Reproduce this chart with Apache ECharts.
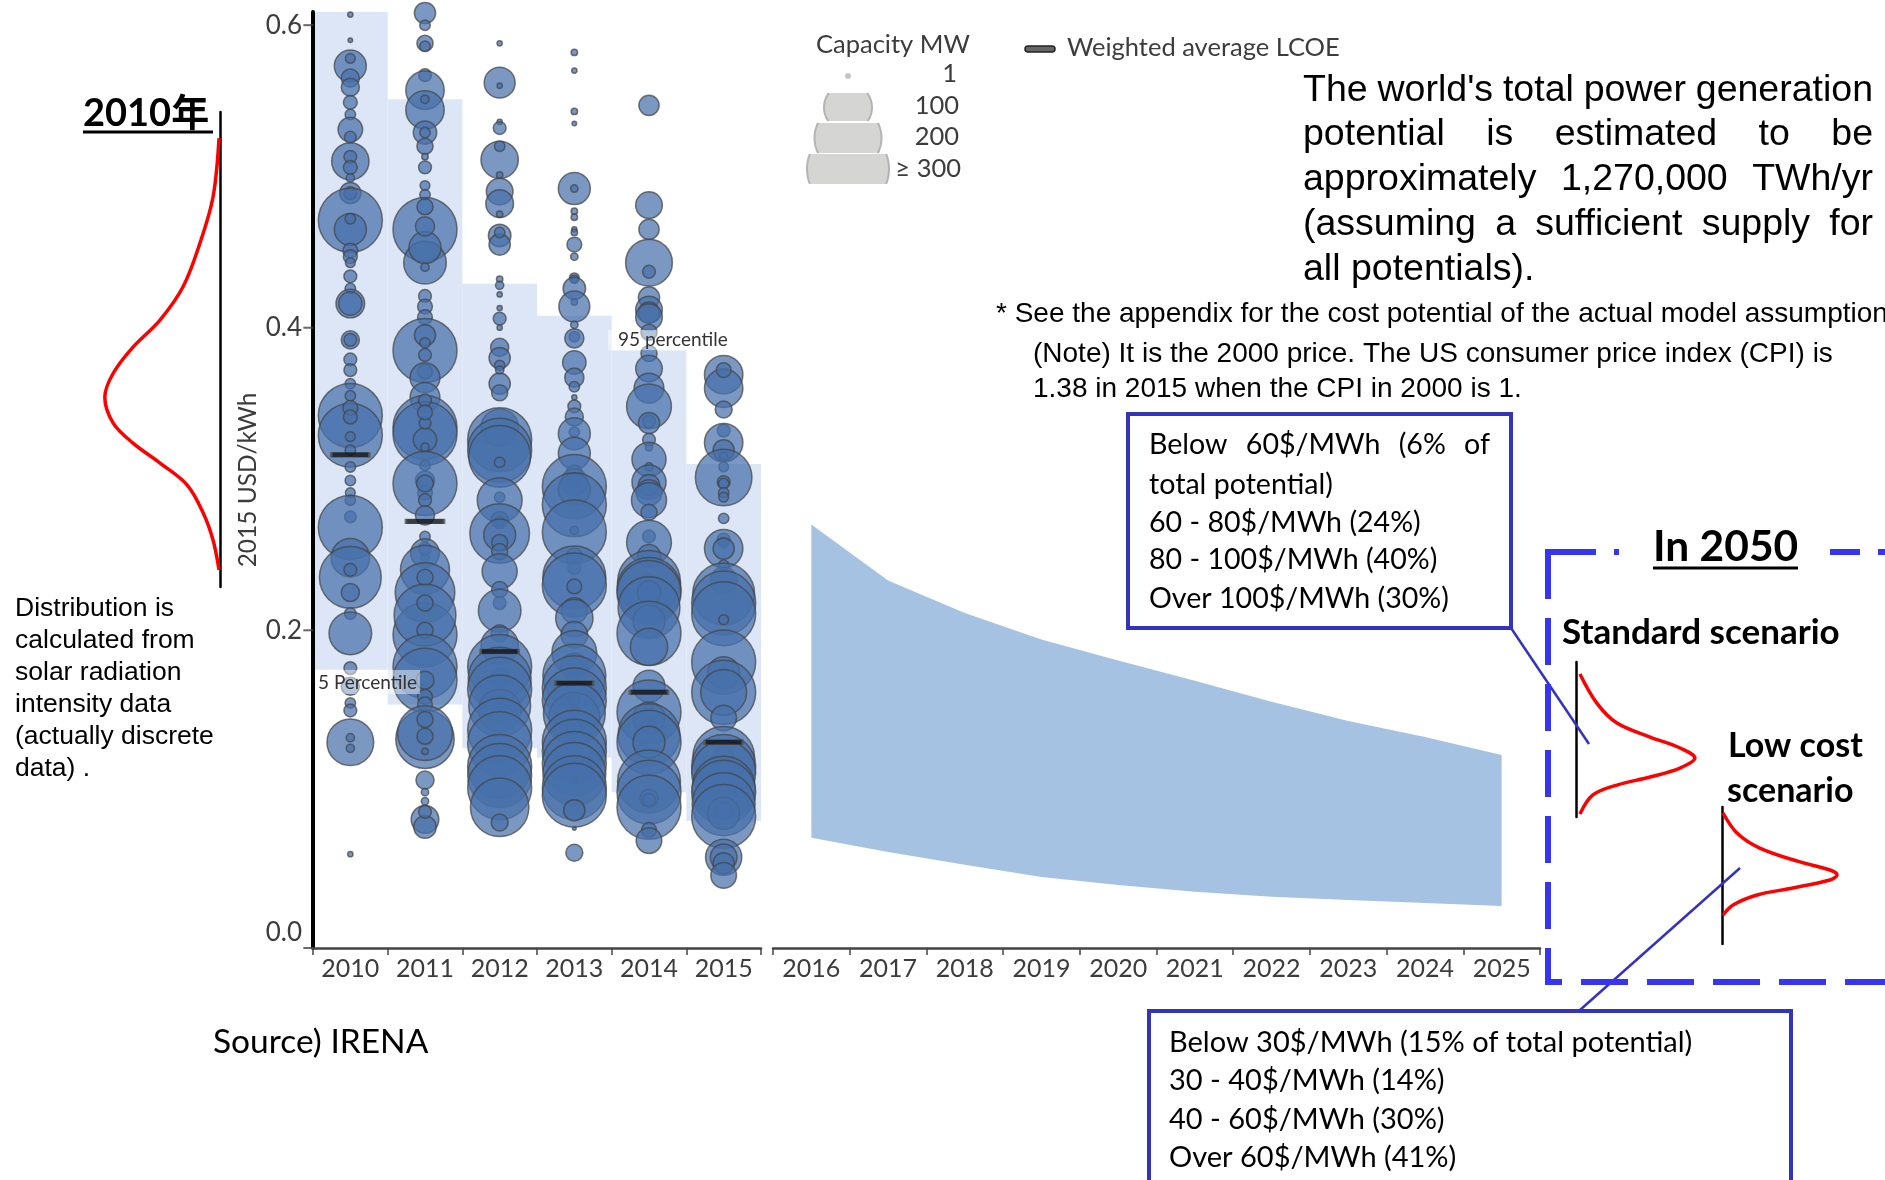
<!DOCTYPE html>
<html>
<head>
    <meta charset="utf-8">
    <title>Solar LCOE</title>
    <script src="https://cdn.jsdelivr.net/npm/echarts@6/dist/echarts.min.js"></script>
    <style type="text/css">
        html, body { height: 100%; margin: 0; padding: 0; background: #fff; overflow: hidden; }
        #main { width: 1885px; height: 1180px; }
    </style>
</head>
<body>
<div id="main"></div>
<script type="text/javascript">
    var pastYears = ['2010', '2011', '2012', '2013', '2014', '2015'];
    var futureYears = ['2016', '2017', '2018', '2019', '2020', '2021', '2022', '2023', '2024', '2025'];

    // 2015 USD/kWh, per year
    var p5 = [0.174, 0.151, 0.122, 0.116, 0.093, 0.074];
    var p95 = [0.6087, 0.551, 0.429, 0.408, 0.385, 0.310];
    var weightedAvg = [0.316, 0.272, 0.186, 0.165, 0.159, 0.126];
    var bandUpper = [0.270, 0.233, 0.2115, 0.194, 0.180, 0.1666, 0.1527, 0.140, 0.1295, 0.1176];
    var bandLower = [0.0628, 0.0535, 0.045, 0.037, 0.0317, 0.0271, 0.0238, 0.0218, 0.0198, 0.0178];
    var yTicks = [-0.01, 0.2, 0.4, 0.6];
    var yLabels = [0, 0.2, 0.4, 0.6];

    // [LCOE, capacity MW]
    var projects2010 = [[.607,2],[.590,1.5],[.573,75],[.578,7],[.565,24],[.559,24],[.549,14],[.541,8],[.531,44],[.526,10],
        [.510,102],[.513,12],[.506,14],[.499,5],[.489,33],[.489,12],[.471,300],[.465,75],[.472,8],[.451,16],[.447,14],[.443,7],
        [.434,12],[.426,8],[.416,60],[.416,40],[.392,24],[.392,12],[.379,12],[.372,12],[.363,8],[.342,300],[.329,300],[.355,8],
        [.347,16],[.341,14],[.328,7],[.319,8],[.308,8],[.299,8],[.291,7],[.286,8],[.275,10],[.268,300],[.248,108],[.235,280],
        [.240,12],[.225,24],[.211,10],[.198,133],[.175,12],[.163,24],[.152,8],[.147,12],[.126,160],[.129,5],[.122,5],[.052,2]];
    var projects2011 = [[.608,33],[.600,8],[.588,19],[.586,8],[.567,12],[.557,108],[.544,108],[.551,5],[.529,40],[.529,8],
        [.520,19],[.506,12],[.513,3],[.494,7],[.488,8],[.465,300],[.443,133],[.453,75],[.480,19],[.467,27],[.440,5],[.421,12],
        [.414,16],[.407,16],[.385,300],[.395,33],[.390,8],[.382,12],[.371,16],[.367,65],[.354,65],[.334,300],[.330,300],[.326,40],
        [.337,10],[.352,12],[.344,16],[.321,5],[.309,8],[.299,27],[.291,16],[.297,300],[.297,21],[.286,12],[.276,27],[.262,8],
        [.254,12],[.248,5],[.251,60],[.240,176],[.225,260],[.235,19],[.197,300],[.210,280],[.200,19],[.218,19],[.176,300],[.167,300],
        [.167,24],[.156,16],[.151,16],[.128,250],[.132,220],[.130,19],[.141,19],[.120,3],[.101,24],[.093,4],[.087,4],[.075,56],[.070,37],[.080,12]];
    var projects2012 = [[.588,2],[.562,70],[.560,2],[.536,2],[.532,12],[.511,102],[.520,8],[.501,3],[.490,52],[.482,56],[.475,3],
        [.461,37],[.455,33],[.463,8],[.432,3],[.428,5],[.422,2],[.413,2],[.406,12],[.400,2],[.387,24],[.380,33],[.375,8],[.372,5],
        [.363,33],[.357,19],[.334,102],[.326,300],[.319,300],[.315,280],[.311,8],[.288,8],[.286,147],[.273,21],[.272,8],[.264,260],
        [.263,75],[.258,19],[.252,19],[.239,90],[.227,19],[.218,12],[.213,133],[.198,21],[.190,102],[.176,300],[.169,24],[.168,290],
        [.161,300],[.147,133],[.150,280],[.134,300],[.125,300],[.110,300],[.104,300],[.096,300],[.083,250],[.073,21]];
    var projects2013 = [[.582,3],[.570,2],[.543,3],[.535,1.5],[.492,75],[.492,4],[.477,3],[.473,3],[.465,2],[.463,3],[.455,16],
        [.447,4],[.433,7],[.432,5],[.426,37],[.417,3],[.414,70],[.402,4],[.394,8],[.393,27],[.377,40],[.367,27],[.361,8],[.354,2],
        [.348,12],[.341,24],[.331,8],[.330,75],[.317,75],[.304,19],[.299,16],[.298,52],[.295,300],[.293,75],[.283,300],[.266,5],
        [.265,300],[.249,19],[.241,12],[.235,290],[.230,300],[.229,16],[.213,48],[.208,102],[.197,52],[.185,147],[.176,52],[.170,290],
        [.162,300],[.154,300],[.154,8],[.147,5],[.142,192],[.145,280],[.136,16],[.126,300],[.120,300],[.112,300],[.105,290],[.102,2],
        [.096,300],[.091,300],[.081,33],[.069,1],[.053,21]];
    var projects2014 = [[.547,30],[.481,52],[.465,30],[.443,160],[.437,12],[.420,33],[.412,52],[.410,33],[.407,52],[.397,19],[.383,19],
        [.373,52],[.360,65],[.348,147],[.338,12],[.337,33],[.326,12],[.321,4],[.313,85],[.308,5],[.298,85],[.296,33],[.291,48],[.286,90],
        [.278,19],[.262,12],[.258,147],[.249,40],[.235,5],[.232,290],[.227,300],[.225,300],[.225,40],[.215,280],[.206,75],[.198,300],
        [.189,102],[.163,75],[.149,5],[.146,300],[.142,75],[.136,16],[.131,280],[.126,300],[.126,75],[.100,290],[.093,300],[.089,24],
        [.088,12],[.083,300],[.068,16],[.061,48]];
    var projects2015 = [[.369,108],[.360,108],[.372,16],[.346,21],[.332,12],[.324,108],[.319,33],[.315,5],[.308,7],[.301,234],[.298,12],
        [.297,8],[.291,8],[.288,7],[.274,8],[.260,12],[.258,8],[.254,108],[.254,33],[.243,8],[.233,52],[.224,280],[.218,300],[.211,300],
        [.207,7],[.179,300],[.172,75],[.159,300],[.159,154],[.142,48],[.116,33],[.116,280],[.110,300],[.106,300],[.103,75],[.096,290],
        [.093,300],[.085,290],[.081,19],[.079,75],[.077,300],[.050,96],[.050,52],[.046,33],[.038,48]];
    var allProjects = [projects2010, projects2011, projects2012, projects2013, projects2014, projects2015];

    // [density, position along the cost axis], both 0-100, schematic
    var dist2010 = [[.8,94.5],[5.8,82.1],[16.7,72.4],[30.8,63.2],[50,56.2],[72.5,50.5],[89,45],[96,40],[89,34.5],[72.5,30.3],[50,26.1],[27.5,21.5],[14,15.6],[5.8,9.9],[.8,3.6]];
    var distStandard = [[3,92.3],[16,73.5],[31.5,60.6],[57,51.6],[80,44.5],[91.5,38],[80,31.6],[57,25.8],[31.5,20.6],[13,14.2],[3,1.9]];
    var distLowCost = [[.8,95.6],[11.5,81],[29,70],[60,59.9],[83,54],[88.5,50.4],[83,46.7],[54.6,40.9],[27,35.8],[8.5,28.5],[.8,21.2]];

    var mainText = ["The world's total power generation", 'potential is estimated to be', 'approximately 1,270,000 TWh/yr', '(assuming a sufficient supply for', 'all potentials).'];
    var leftNote = ['Distribution is', 'calculated from', 'solar radiation', 'intensity data', '(actually discrete', 'data) .'];
    var box2050Standard = ['Below 60$/MWh (6% of', 'total potential)', '60 - 80$/MWh (24%)', '80 - 100$/MWh (40%)', 'Over 100$/MWh (30%)'];
    var box2050Low = ['Below 30$/MWh (15% of total potential)', '30 - 40$/MWh (14%)', '40 - 60$/MWh (30%)', 'Over 60$/MWh (41%)'];

    var yMin = -0.01, yMax = 0.6087;
    var axisText = '#3c3c3c';
    var axisFont = 'Lato';
    var boxBlue = '#3333bb';
    var dashBlue = '#3636f2';

    var myChart = echarts.init(document.getElementById('main'), null, {renderer: 'canvas'});

    // ---- graphic helpers ----
    var measure = document.createElement('canvas').getContext('2d');
    function txt(str, x, base, font, fill, size) {
        return {type: 'text', z: 100, style: {text: str, x: x, y: base - size * 0.35, fill: fill || '#000',
            font: font, verticalAlign: 'middle', align: 'left'}};
    }
    function txtR(str, x, base, font, fill, size) {
        var t = txt(str, x, base, font, fill, size);
        t.style.align = 'right';
        return t;
    }
    // one line stretched to the column width, word by word
    function justified(str, x0, x1, base, font, size) {
        measure.font = font;
        var words = str.split(' ');
        var total = 0;
        words.forEach(function (w) { total += measure.measureText(w).width; });
        var gap = (x1 - x0 - total) / (words.length - 1);
        var x = x0, out = [];
        words.forEach(function (w) {
            out.push(txt(w, x, base, font, '#000', size));
            x += measure.measureText(w).width + gap;
        });
        return out;
    }
    function seg(x1, y1, x2, y2, color, w, dash) {
        return {type: 'line', z: 99, shape: {x1: x1, y1: y1, x2: x2, y2: y2},
            style: {stroke: color, lineWidth: w, lineDash: dash || null}};
    }
    function rect(x, y, w, h, fill, stroke, lw) {
        return {type: 'rect', z: 98, shape: {x: x, y: y, width: w, height: h},
            style: {fill: fill, stroke: stroke, lineWidth: lw || 0}};
    }
    // legend key: a circle cut flat at the top and bottom
    function legendKey(cx, top, bottom, half) {
        var cy = (top + bottom) / 2, l = [], r = [];
        for (var y = top; y <= bottom; y += 2) {
            var dx = Math.sqrt(half * half - (y - cy) * (y - cy));
            l.push([cx - dx, y]);
            r.unshift([cx + dx, y]);
        }
        var sideStyle = {stroke: '#b4b4b2', lineWidth: 2, fill: null};
        return [
            {type: 'polygon', z: 98, shape: {points: l.concat(r)}, style: {fill: '#d5d5d3'}},
            {type: 'polyline', z: 98, shape: {points: l}, style: sideStyle},
            {type: 'polyline', z: 98, shape: {points: r}, style: sideStyle}
        ];
    }

    var graphics = [];
    var arialMain = '37.5px "Liberation Sans"';
    [103.5, 148, 193, 238].forEach(function (base, i) {
        graphics = graphics.concat(justified(mainText[i], 1303, 1873, base, arialMain, 37.5));
    });
    graphics.push(txt(mainText[4], 1303, 282.5, arialMain, '#000', 37.5));

    var arial28 = '28px "Liberation Sans"';
    graphics.push(txt('* See the appendix for the cost potential of the actual model assumption', 996, 324, arial28, '#000', 28));
    graphics.push(txt('(Note) It is the 2000 price. The US consumer price index (CPI) is', 1033, 364.5, arial28, '#000', 28));
    graphics.push(txt('1.38 in 2015 when the CPI in 2000 is 1.', 1033, 399, arial28, '#000', 28));

    var arial26 = '26.5px "Liberation Sans"';
    leftNote.forEach(function (line, i) {
        graphics.push(txt(line, 15, 618 + i * 32, arial26, '#000', 26.5));
    });

    // year headings
    graphics.push(txt('2010年', 83, 127, 'bold 38px Lato, "Noto Sans CJK JP"', '#000', 38));
    graphics.push(seg(83, 132, 213, 132, '#000', 3));
    graphics.push(txt('In 2050', 1653, 562, 'bold 42.5px Lato', '#000', 42.5));
    graphics.push(seg(1653, 568, 1798, 568, '#000', 3));
    graphics.push(txt('Standard scenario', 1562, 645, 'bold 35px Lato', '#000', 35));
    graphics.push(txt('Low cost', 1728, 758, 'bold 34px Lato', '#000', 34));
    graphics.push(txt('scenario', 1727, 803, 'bold 34px Lato', '#000', 34));
    graphics.push(txt('Source) IRENA', 213, 1054, '33.5px Lato', '#000', 33.5));

    // capacity legend
    var legendFont = '25.5px Lato';
    graphics.push(txt('Capacity MW', 816, 54, legendFont, axisText, 25.5));
    graphics.push(txt('Weighted average LCOE', 1067, 57, legendFont, axisText, 25.5));
    graphics.push({type: 'rect', z: 98, shape: {x: 1025, y: 46, width: 30, height: 6, r: 3}, style: {fill: '#666', stroke: '#222', lineWidth: 1.5}});
    graphics.push({type: 'circle', z: 98, shape: {cx: 848, cy: 76, r: 3}, style: {fill: '#c4c4c4'}});
    graphics = graphics.concat(legendKey(848, 93, 122, 24), legendKey(848, 123, 153, 33.5), legendKey(848, 154, 184, 41));
    graphics.push(txtR('1', 957, 83, legendFont, axisText, 25.5));
    graphics.push(txtR('100', 959, 115, legendFont, axisText, 25.5));
    graphics.push(txtR('200', 959, 146, legendFont, axisText, 25.5));
    graphics.push(txtR('≥ 300', 961, 178, legendFont, axisText, 25.5));

    // percentile tags sit over the bubbles, with a thin white plate
    graphics.push(rect(315, 670, 105, 24, 'rgba(255,255,255,0.45)'));
    graphics.push(txt('5 Percentile', 318, 690, '19px Lato', '#333', 19));
    graphics.push(rect(608, 330, 122, 20, 'rgba(255,255,255,0.45)'));
    graphics.push(txt('95 percentile', 618, 347, '19px Lato', '#333', 19));

    // 2050 boxes
    var boxFont = '28.6px Lato';
    graphics.push(rect(1128, 414, 383, 214, '#fff', boxBlue, 4));
    graphics = graphics.concat(justified(box2050Standard[0], 1149, 1490, 455, boxFont, 28.6));
    [495, 533, 570, 609].forEach(function (base, i) {
        graphics.push(txt(box2050Standard[i + 1], 1149, base, boxFont, '#000', 28.6));
    });
    graphics.push(rect(1149, 1011, 642, 300, '#fff', boxBlue, 4));
    [1053, 1091, 1130, 1168].forEach(function (base, i) {
        graphics.push(txt(box2050Low[i], 1169, base, '29px Lato', '#000', 29));
    });
    graphics.push(seg(1511, 628, 1589, 744, boxBlue, 2.5));
    graphics.push(seg(1580, 1010, 1740, 868, boxBlue, 2.5));

    // dashed frame, open on the right edge of the page
    graphics.push(seg(1548, 552, 1548, 982, dashBlue, 6, [47, 19]));
    graphics.push(seg(1545, 552, 1596, 552, dashBlue, 6));
    graphics.push(seg(1614, 552, 1619, 552, dashBlue, 6));
    graphics.push(seg(1830, 552, 1860, 552, dashBlue, 6));
    graphics.push(seg(1878, 552, 1885, 552, dashBlue, 6));
    graphics.push(seg(1581, 982, 1885, 982, dashBlue, 6, [47, 19]));
    graphics.push(seg(1545, 982, 1562, 982, dashBlue, 6));

    // ---- axes ----
    function yearAxis(grid, years) {
        return {
            type: 'category', gridIndex: grid, data: years, boundaryGap: true, z: 6,
            axisLine: {onZero: false, lineStyle: {color: '#444', width: 2.5}},
            axisTick: {show: true, length: 7, alignWithLabel: false, lineStyle: {color: '#444', width: 1.5}},
            axisLabel: {color: axisText, fontFamily: axisFont, fontSize: 25, margin: 8, interval: 0},
            splitLine: {show: false}
        };
    }
    function distGrid(left, top, width, height) {
        return {left: left, top: top, width: width, height: height};
    }
    function distX(grid, inverse) {
        return {type: 'value', gridIndex: grid, min: 0, max: 100, inverse: inverse, show: false};
    }
    function distY(grid, pos) {
        return {type: 'value', gridIndex: grid, min: 0, max: 100, position: pos, name: '',
            axisLine: {show: true, onZero: false, lineStyle: {color: '#000', width: 2.5}},
            axisTick: {show: false}, axisLabel: {show: false}, splitLine: {show: false}};
    }
    function distSeries(grid, data) {
        return {type: 'line', xAxisIndex: grid, yAxisIndex: grid, data: data, smooth: 0.35, symbol: 'none',
            clip: false, silent: true, lineStyle: {color: '#ff0000', width: 3.5}};
    }

    var series = [
        {name: 'base', type: 'bar', stack: 'pct', data: p5, barCategoryGap: 0, silent: true,
            itemStyle: {color: 'rgba(0,0,0,0)'}},
        {name: '5-95 percentile', type: 'bar', stack: 'pct', silent: true,
            data: p95.map(function (v, i) { return +(v - p5[i]).toFixed(4); }),
            itemStyle: {color: '#dce6f6'}}
    ];
    allProjects.forEach(function (list, i) {
        series.push({
            name: pastYears[i], type: 'scatter', silent: true,
            data: list.map(function (d) { return [i, d[0], d[1]]; }),
            symbolSize: function (val) { return 64 * Math.sqrt(Math.min(val[2], 300) / 300); },
            itemStyle: {color: 'rgb(70,112,170)', opacity: 0.72, borderColor: '#444', borderWidth: 1.5}
        });
    });
    series.push({
        name: 'Weighted average LCOE', type: 'scatter', silent: true, z: 5,
        data: weightedAvg.map(function (v, i) { return [i, v]; }),
        symbol: 'rect', symbolSize: [38, 5],
        itemStyle: {color: '#111', borderColor: '#555', borderWidth: 1}
    });
    // y ticks: thin marks pushed left from the first category onto the axis
    series.push({
        name: 'y ticks', type: 'scatter', silent: true, clip: false, z: 7,
        data: yTicks.map(function (v) { return [0, v]; }),
        symbol: 'rect', symbolSize: [10, 2], symbolOffset: [-42, 0],
        itemStyle: {color: '#444'}
    });
    series.push({
        name: 'lower', type: 'line', xAxisIndex: 1, yAxisIndex: 1, stack: 'band', data: bandLower,
        symbol: 'none', silent: true, lineStyle: {width: 0}
    });
    series.push({
        name: 'range', type: 'line', xAxisIndex: 1, yAxisIndex: 1, stack: 'band', symbol: 'none', silent: true,
        data: bandUpper.map(function (v, i) { return +(v - bandLower[i]).toFixed(4); }),
        lineStyle: {width: 0}, areaStyle: {color: '#a6c2e3', opacity: 1}
    });
    series.push(distSeries(2, dist2010));
    series.push(distSeries(3, distStandard));
    series.push(distSeries(4, distLowCost));

    var option = {
        animation: false,
        backgroundColor: '#fff',
        textStyle: {fontFamily: axisFont},
        grid: [
            {left: 313, top: 12, width: 448, height: 936},
            {left: 773, top: 12, width: 767, height: 936},
            distGrid(100, 112, 120, 475),
            distGrid(1576, 662, 130, 155),
            distGrid(1722, 807, 130, 137)
        ],
        xAxis: [yearAxis(0, pastYears), yearAxis(1, futureYears), distX(2, true), distX(3, false), distX(4, false)],
        yAxis: [
            {
                type: 'value', gridIndex: 0, min: yMin, max: yMax, z: 6,
                name: '2015 USD/kWh', nameLocation: 'middle', nameGap: 52, nameRotate: 90,
                nameTextStyle: {color: axisText, fontFamily: axisFont, fontSize: 24.5},
                axisLine: {show: true, onZero: false, lineStyle: {color: '#000', width: 4}},
                axisTick: {show: false},
                axisLabel: {color: axisText, fontFamily: axisFont, fontSize: 26, margin: 11, customValues: yLabels,
                    formatter: function (v) { return v.toFixed(1); }},
                splitLine: {show: false}
            },
            {type: 'value', gridIndex: 1, min: yMin, max: yMax, show: false},
            distY(2, 'right'), distY(3, 'left'), distY(4, 'left')
        ],
        graphic: {elements: graphics},
        series: series
    };
    myChart.setOption(option);
</script>
</body>
</html>
